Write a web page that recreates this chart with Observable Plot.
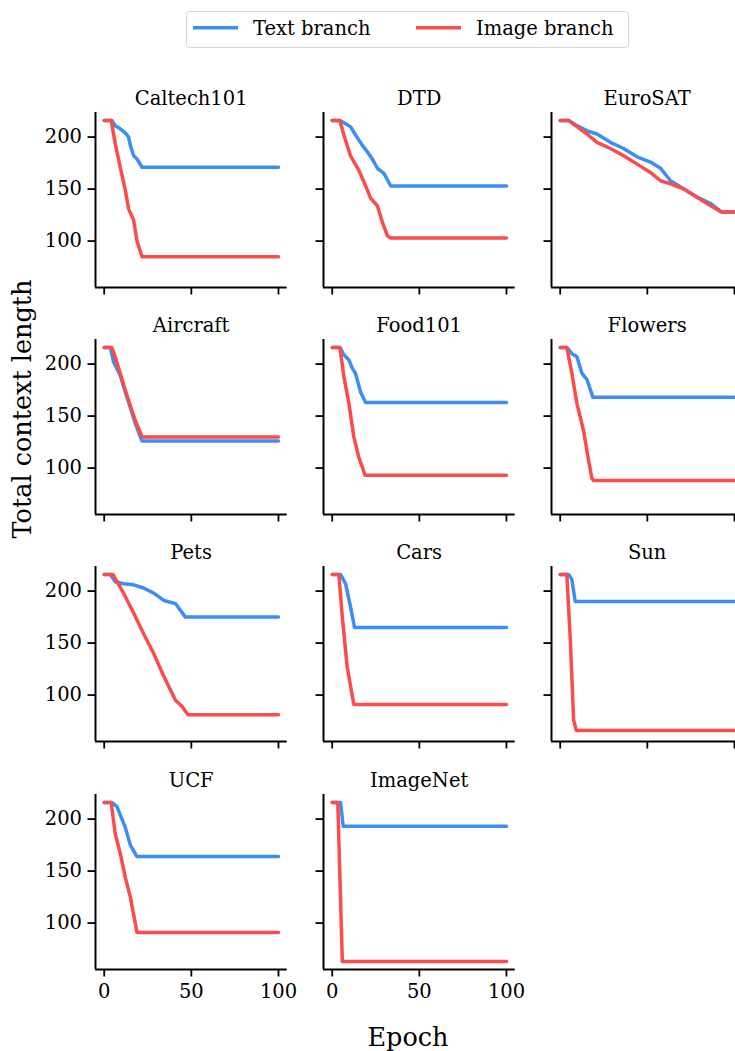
<!DOCTYPE html>
<html><head><meta charset="utf-8">
<script src="https://cdn.jsdelivr.net/npm/d3@7"></script>
<script src="https://cdn.jsdelivr.net/npm/@observablehq/plot@0.6"></script>
<style>
html,body{margin:0;padding:0;background:#fff;overflow:hidden;}
#fig{position:relative;width:735px;height:1051px;overflow:hidden;font-family:"DejaVu Serif",serif;}
.panel{position:absolute;}
.panel svg{overflow:visible;max-width:none !important;font-family:"DejaVu Serif",serif !important;}
.panel svg text{font-family:"DejaVu Serif",serif !important;}
</style></head><body><div id="fig"></div>
<script>
// ---------- data (epoch, total context length) ----------
const datasets = ["Caltech101","DTD","EuroSAT","Aircraft","Food101","Flowers","Pets","Cars","Sun","UCF","ImageNet"];
const seriesNames = ["Text branch","Image branch"];
const xTicks = [0, 50, 100];
const yTicks = [100, 150, 200];

const caltech101Text = [[0,216],[4.4,216],[6.3,211],[9.2,208],[12.1,204],[14,200],[15,192],[16.9,182],[18.8,179],[21.7,171],[100,171]];
const caltech101Image = [[0,216],[4,216],[6.3,194],[9.2,171],[12.1,149],[14,131],[16.9,120],[18.8,100],[21.7,85],[100,85]];
const dtdText = [[0,216],[4.4,216],[7.5,213],[10.5,210],[13.4,202],[17.3,192],[20.1,186],[23,179],[25.9,170],[29.7,165],[33.6,153],[100,153]];
const dtdImage = [[0,216],[4.4,216],[6.7,202],[10.5,182],[15.3,168],[19.2,153],[22.1,141],[25.9,134],[28.8,118],[31.7,105],[33.6,103],[100,103]];
const eurosatText = [[0,216],[4.8,216],[9.6,211],[15.4,206],[21.1,203],[28.8,195],[36.4,189],[44.1,181],[51.8,176],[57.6,170],[63.3,158],[71,150],[78.7,142],[86.4,136],[92.5,128],[100,128]];
const eurosatImage = [[0,216],[4.8,216],[9.6,210],[15.4,203],[21.1,195],[28.8,189],[36.4,182],[44.1,174],[51.8,166],[57.6,158],[63.3,155],[71,150],[78.7,142],[86.4,134],[92.5,128],[100,128]];
const aircraftText = [[0,216],[3.5,216],[5.4,202],[9.2,189],[12.1,173],[15,158],[17.8,143],[21.7,126],[100,126]];
const aircraftImage = [[0,216],[4.4,216],[6.3,207],[9.2,191],[12.1,175],[15,160],[17.8,146],[21.7,130],[100,130]];
const food101Text = [[0,216],[4.4,216],[6.7,209],[9.6,204],[11.5,196],[13.4,191],[16.3,173],[19.2,163],[100,163]];
const food101Image = [[0,216],[4.4,216],[6.7,188],[9.6,162],[12.4,130],[15.3,110],[17.3,101],[18.8,93],[100,93]];
const flowersText = [[0,216],[3.8,216],[6.7,210],[9.6,207],[12.5,191],[15.4,185],[18.8,168],[100,168]];
const flowersImage = [[0,216],[3.8,216],[6.7,191],[9.6,162],[13.4,136],[16.3,107],[18.2,90],[19.2,88],[100,88]];
const petsText = [[0,216],[3.5,216],[6.3,209],[11.1,207],[16.9,206],[22.6,203],[28.4,198],[34.2,191],[40.9,188],[46.6,175],[100,175]];
const petsImage = [[0,216],[5,216],[11.1,198],[16.9,179],[22.6,159],[28.4,140],[34.2,118],[40.9,95],[44.7,89],[48,81],[100,81]];
const carsText = [[0,216],[4.8,216],[7.7,207],[10.5,185],[12.8,165],[100,165]];
const carsImage = [[0,216],[3.8,216],[5.8,175],[8.6,127],[12.4,91],[100,91]];
const sunText = [[0,216],[4.8,216],[6.7,211],[8.6,190],[100,190]];
const sunImage = [[0,216],[3.8,216],[5.8,153],[7.7,76],[9.2,66],[100,66]];
const ucfText = [[0,216],[4.4,216],[7.3,212],[9.2,204],[12.1,192],[15,175],[18.8,164],[100,164]];
const ucfImage = [[0,216],[4,216],[6.3,186],[9.2,167],[12.1,144],[15,125],[18.8,91],[100,91]];
const imagenetText = [[0,216],[4.8,216],[6.3,193],[100,193]];
const imagenetImage = [[0,216],[3.2,216],[5.8,63],[100,63]];

const textSeries = [caltech101Text, dtdText, eurosatText, aircraftText, food101Text, flowersText, petsText, carsText, sunText, ucfText, imagenetText];
const imageSeries = [caltech101Image, dtdImage, eurosatImage, aircraftImage, food101Image, flowersImage, petsImage, carsImage, sunImage, ucfImage, imagenetImage];

// ---------- style ----------
const BLUE = "#3c8ef5", RED = "#fc4b4b";
const FONT = "DejaVu Serif";
const LW = 3.5;
const plotW = 191.7, plotH = 175;
const ml = 60, mr = 30, mt = 4, mb = 40;
const colLeft = c => 95.3 + 228 * c;
const rowTop = r => 111.7 + 227.3 * r;

// shared domains, matplotlib-like 5% margins
const allE = textSeries.concat(imageSeries).flat().map(d => d[0]);
const allV = textSeries.concat(imageSeries).flat().map(d => d[1]);
const pad = ([a, b]) => [a - (b - a) * 0.05, b + (b - a) * 0.05];
const xDomain = pad(d3.extent(allE));
const yDomain = pad(d3.extent(allV));

const fig = document.getElementById("fig");
const toRows = (arr) => arr.map(([epoch, value]) => ({epoch, value}));

datasets.forEach((name, i) => {
  const col = i % 3, row = Math.floor(i / 3);
  const showY = col === 0;
  const showX = (i === 9 || i === 10);
  const W = ml + plotW + mr, H = mt + plotH + mb;
  const chart = Plot.plot({
    width: W, height: H,
    marginLeft: ml, marginRight: mr, marginTop: mt, marginBottom: mb,
    x: {domain: xDomain},
    y: {domain: yDomain},
    style: {fontFamily: FONT, fontSize: "19.5px", background: "transparent", color: "#000", overflow: "visible", maxWidth: "none"},
    marks: [
      Plot.axisY(yTicks, {tickSize: 7.5, tickPadding: 6, strokeWidth: 1.8, stroke: "#000", fill: "#000", tickFormat: showY ? (d => String(d)) : (() => ""), label: null, fontSize: "19.5px", fontFamily: FONT}),
      Plot.axisX(xTicks, {tickSize: 7.5, tickPadding: 7, strokeWidth: 1.8, stroke: "#000", fill: "#000", tickFormat: showX ? (d => String(d)) : (() => ""), label: null, fontSize: "19.5px", fontFamily: FONT}),
      Plot.ruleX([xDomain[0]], {stroke: "#000", strokeWidth: 2}),
      Plot.ruleY([yDomain[0]], {stroke: "#000", strokeWidth: 2}),
      Plot.line(toRows(textSeries[i]), {x: "epoch", y: "value", stroke: BLUE, strokeWidth: LW}),
      Plot.line(toRows(imageSeries[i]), {x: "epoch", y: "value", stroke: RED, strokeWidth: LW})
    ]
  });
  chart.style.maxWidth = "none";
  chart.style.width = W + "px";
  chart.style.height = H + "px";
  const wrap = document.createElement("div");
  wrap.className = "panel";
  wrap.style.left = (colLeft(col) - ml) + "px";
  wrap.style.top = (rowTop(row) - mt) + "px";
  wrap.style.width = W + "px";
  wrap.style.height = H + "px";
  wrap.appendChild(chart);
  fig.appendChild(wrap);
});

// ---------- overlay text: titles, axis labels, legend ----------
const ov = d3.select(fig).append("svg")
  .attr("width", 735).attr("height", 1051)
  .style("position", "absolute").style("left", "0px").style("top", "0px")
  .style("pointer-events", "none")
  .style("font-family", FONT);

datasets.forEach((name, i) => {
  const col = i % 3, row = Math.floor(i / 3);
  ov.append("text").attr("x", colLeft(col) + plotW / 2).attr("y", rowTop(row) - 7)
    .attr("text-anchor", "middle").attr("font-size", 19.5).attr("fill", "#000").text(name);
});

ov.append("text").attr("transform", "translate(31,409) rotate(-90)")
  .attr("text-anchor", "middle").attr("font-size", 25.5).attr("fill", "#000").text("Total context length");
ov.append("text").attr("x", 408).attr("y", 1046)
  .attr("text-anchor", "middle").attr("font-size", 25.5).attr("fill", "#000").text("Epoch");

// legend
const lg = ov.append("g");
lg.append("rect").attr("x", 186.5).attr("y", 11.5).attr("width", 442).attr("height", 36)
  .attr("rx", 3).attr("fill", "#fff").attr("stroke", "#d6d6d6").attr("stroke-width", 1);
const legendItems = [{name: seriesNames[0], color: BLUE, x: 193}, {name: seriesNames[1], color: RED, x: 416}];
legendItems.forEach(it => {
  lg.append("line").attr("x1", it.x).attr("x2", it.x + 45).attr("y1", 27.7).attr("y2", 27.7)
    .attr("stroke", it.color).attr("stroke-width", LW);
  lg.append("text").attr("x", it.x + 60).attr("y", 35).attr("font-size", 19.5).attr("fill", "#000").text(it.name);
});
</script></body></html>
